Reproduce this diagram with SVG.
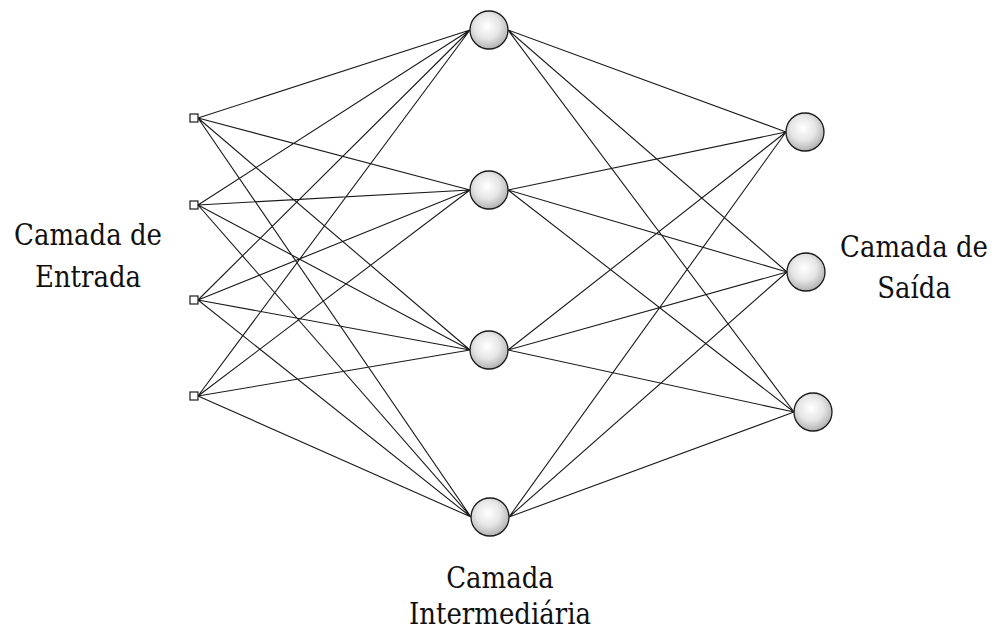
<svg xmlns="http://www.w3.org/2000/svg" width="997" height="632" viewBox="0 0 997 632">
<defs>
<radialGradient id="g" cx="0.45" cy="0.4" r="0.65">
<stop offset="0" stop-color="#ffffff"/>
<stop offset="0.5" stop-color="#e6e6e6"/>
<stop offset="1" stop-color="#a8a8a8"/>
</radialGradient>
<style>
.e{stroke:#1a1a1a;stroke-width:1.1;fill:none}
.n{fill:url(#g);stroke:#1a1a1a;stroke-width:1.3}
.i{fill:#fff;stroke:#1a1a1a;stroke-width:1.2}
</style>
</defs>
<rect width="997" height="632" fill="#fff"/>
<g id="connectors">
<path class="e" d="M198 118L470 30M198 118L470 190M198 118L470 350M198 118L471 517M198 205L470 30M198 205L470 190M198 205L470 350M198 205L471 517M198 300L470 30M198 300L470 190M198 300L470 350M198 300L471 517M198 396L470 30M198 396L470 190M198 396L470 350M198 396L471 517"/>
<path class="e" d="M508 30L786 132M508 30L787 272M508 30L794 412M508 190L786 132M508 190L787 272M508 190L794 412M508 350L786 132M508 350L787 272M508 350L794 412M509 517L786 132M509 517L787 272M509 517L794 412"/>
</g>
<g id="in1"><rect class="i" x="190" y="114" width="8" height="8"/></g>
<g id="in2"><rect class="i" x="190" y="201" width="8" height="8"/></g>
<g id="in3"><rect class="i" x="190" y="296" width="8" height="8"/></g>
<g id="in4"><rect class="i" x="190" y="392" width="8" height="8"/></g>
<g id="h1"><circle class="n" cx="489" cy="30" r="19"/></g>
<g id="h2"><circle class="n" cx="489" cy="190" r="19"/></g>
<g id="h3"><circle class="n" cx="489" cy="350" r="19"/></g>
<g id="h4"><circle class="n" cx="490" cy="517" r="19"/></g>
<g id="o1"><circle class="n" cx="805" cy="132" r="19"/></g>
<g id="o2"><circle class="n" cx="806" cy="272" r="19"/></g>
<g id="o3"><circle class="n" cx="813" cy="412" r="19"/></g>
<g font-family="'DejaVu Serif', 'Liberation Serif', serif" font-size="26" fill="#111" text-anchor="middle">
<g id="label-entrada"><text transform="translate(88 245) scale(1 1.15)">Camada de</text><text transform="translate(88 287) scale(1 1.15)">Entrada</text></g>
<g id="label-saida"><text transform="translate(914 257) scale(1 1.15)">Camada de</text><text transform="translate(914 298) scale(1 1.15)">Saída</text></g>
<g id="label-intermediaria"><text transform="translate(500 588) scale(1 1.15)">Camada</text><text transform="translate(500 624) scale(1 1.15)">Intermediária</text></g>
</g>
</svg>
